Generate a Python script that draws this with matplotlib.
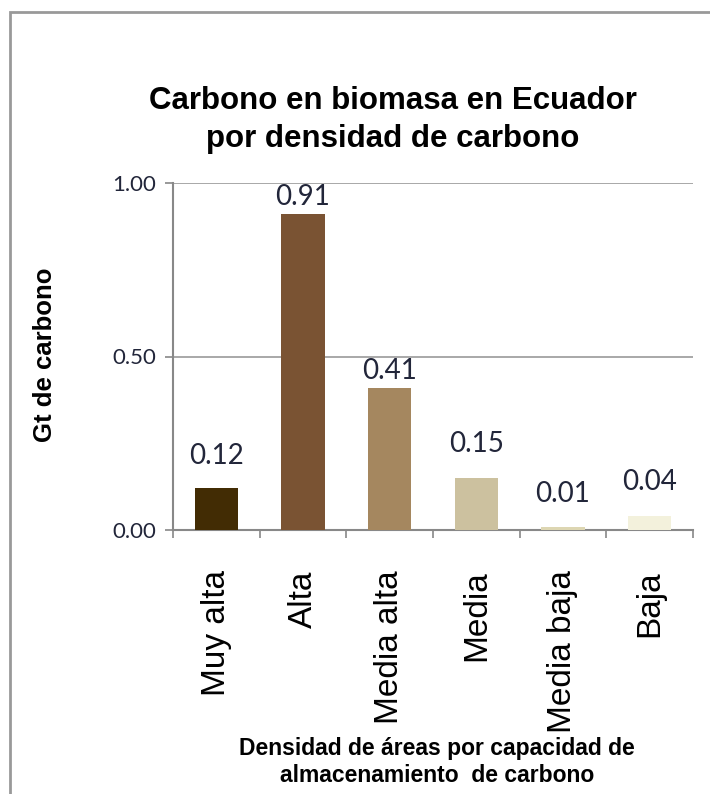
import matplotlib.pyplot as plt
from matplotlib.patches import Rectangle
import numpy as np

# Data
categorias = ["Muy alta", "Alta", "Media alta", "Media", "Media baja", "Baja"]
carbono_gt = [0.12, 0.91, 0.41, 0.15, 0.01, 0.04]
colores = ["#422C04", "#7A5333", "#A5875F", "#CCC19F", "#DDD6B2", "#F3F1DC"]
yticks = [0.0, 0.5, 1.0]

# label gap above each bar (points), as placed in the original
offsets = [14, 3, 3, 15, 14, 15]

fig = plt.figure(figsize=(7.1, 7.94), dpi=100)
ax = fig.add_axes([173 / 710, 1 - 530 / 794, (693 - 173) / 710, (530 - 183) / 794])

x = np.arange(len(categorias))
ax.bar(x, carbono_gt, width=0.5, color=colores, edgecolor="none", zorder=3)

# data labels
for xi, v, off in zip(x, carbono_gt, offsets):
    ax.annotate(f"{v:.2f}", (xi, v), xytext=(0, off), textcoords="offset points",
                ha="center", va="bottom", fontsize=20, family="Lato", color="#22263a")

ax.set_xlim(-0.5, len(categorias) - 0.5)
ax.set_ylim(0, 1.0)
ax.set_yticks(yticks)
ax.set_yticklabels([f"{t:.2f}" for t in yticks], family="Lato", fontsize=16, color="#22263a")
ax.grid(axis="y", color="#999999", linewidth=1.2, zorder=0)

ax.set_xticks(x)
ax.set_xticklabels(categorias, rotation=90, fontsize=24, family="Liberation Sans")
ax.tick_params(axis="x", which="major", length=0, pad=29)
ax.set_xticks(np.arange(len(categorias) + 1) - 0.5, minor=True)
ax.tick_params(axis="x", which="minor", length=6, width=1.2, color="#888888")
ax.tick_params(axis="y", length=6, width=1.2, color="#888888", pad=6)

for s in ["top", "right"]:
    ax.spines[s].set_visible(False)
for s in ["left", "bottom"]:
    ax.spines[s].set_color("#888888")
    ax.spines[s].set_linewidth(1.5)

# titles
fig.text(393 / 710, 1 - 120 / 794, "Carbono en biomasa en Ecuador\npor densidad de carbono",
         ha="center", va="center", fontsize=22.5, fontweight="bold",
         family="Liberation Sans", linespacing=1.35)
fig.text(45 / 710, 1 - 355 / 794, "Gt de carbono", rotation=90, ha="center", va="center",
         fontsize=18.5, fontweight="bold", family="Liberation Sans")
fig.text(437 / 710, 1 - 762 / 794,
         "Densidad de áreas por capacidad de\nalmacenamiento  de carbono",
         ha="center", va="center", fontsize=16.5, fontweight="bold",
         family="Liberation Sans", linespacing=1.2)

# outer border of the chart area
fig.patches.append(Rectangle((10 / 710, -0.1), 1.2, 1.1 - 12 / 794, transform=fig.transFigure,
                             fill=False, edgecolor="#999999", linewidth=2))

fig.savefig("out.png", dpi=100)
